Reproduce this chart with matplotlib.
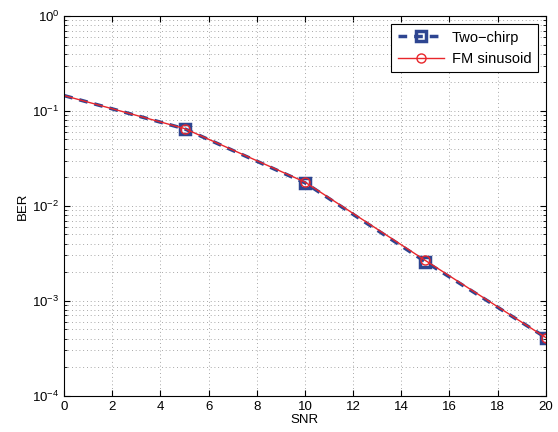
import numpy as np
import matplotlib.pyplot as plt
from matplotlib.ticker import LogLocator, NullFormatter

plt.rcParams['font.family'] = ['Liberation Sans', 'DejaVu Sans']

snr = [0, 5, 10, 15, 20]
ber_two_chirp = [0.145, 0.0648, 0.0175, 0.00258, 0.00041]
ber_fm = [0.145, 0.0652, 0.0178, 0.00266, 0.00041]

fig = plt.figure(figsize=(5.58, 4.32), dpi=100)
ax = fig.add_axes([0.115, 0.084, 0.863, 0.879])

ax.semilogy(snr, ber_two_chirp, '--s', color='#2E4591', linewidth=2.5,
            markersize=7, markerfacecolor='none', markeredgewidth=2.5,
            markevery=[1, 2, 3, 4], dashes=(2.5, 2), label='Two\u2212chirp')
ax.semilogy(snr, ber_fm, '-o', color='#E8262B', linewidth=1.0,
            markersize=6.5, markerfacecolor='none', markeredgewidth=1.0,
            markevery=[1, 2, 3, 4], label='FM sinusoid')

ax.set_xlim(0, 20)
ax.set_ylim(1e-4, 1)
ax.set_xticks(np.arange(0, 21, 2))
ax.yaxis.set_major_locator(LogLocator(base=10, numticks=10))
ax.yaxis.set_minor_locator(LogLocator(base=10, subs=np.arange(2, 10), numticks=10))
ax.yaxis.set_minor_formatter(NullFormatter())

ax.tick_params(which='both', direction='in', top=True, right=True, labelsize=9.5)
ax.tick_params(which='major', length=4)
ax.tick_params(which='minor', length=2)
grid_style = dict(linestyle=(0, (1, 3.5)), color='#8a8a8a', linewidth=0.6)
ax.grid(True, which='major', **grid_style)
ax.grid(True, which='minor', axis='y', **grid_style)

ax.set_xlabel('SNR', fontsize=9.5, labelpad=1)
ax.set_ylabel('BER', fontsize=9.5, labelpad=2)

leg = ax.legend(loc='upper right', fontsize=10.5, fancybox=False, framealpha=1,
                edgecolor='black', handlelength=3.2, borderpad=0.45,
                labelspacing=0.5, handletextpad=0.5, borderaxespad=0.55)
leg.get_frame().set_linewidth(0.8)

fig.savefig('out.png', dpi=100)
